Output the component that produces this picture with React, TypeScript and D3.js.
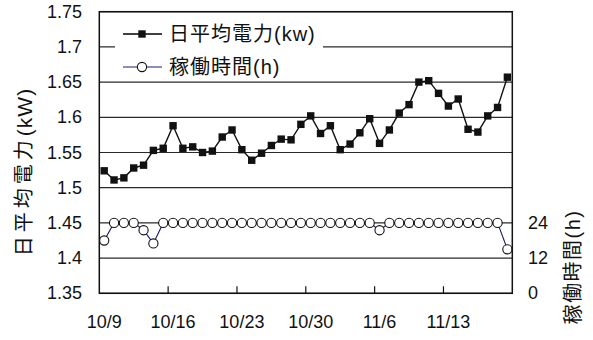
import React from "react";
import * as d3 from "d3";

const dates = [
  "10/9","10/10","10/11","10/12","10/13","10/14","10/15",
  "10/16","10/17","10/18","10/19","10/20","10/21","10/22",
  "10/23","10/24","10/25","10/26","10/27","10/28","10/29",
  "10/30","10/31","11/1","11/2","11/3","11/4","11/5",
  "11/6","11/7","11/8","11/9","11/10","11/11","11/12",
  "11/13","11/14","11/15","11/16","11/17","11/18","11/19",
];

const power = [
  1.524, 1.511, 1.514, 1.528, 1.532, 1.553, 1.556,
  1.588, 1.556, 1.558, 1.550, 1.552, 1.572, 1.582,
  1.554, 1.539, 1.549, 1.560, 1.569, 1.568, 1.590,
  1.602, 1.577, 1.588, 1.554, 1.562, 1.578, 1.598,
  1.563, 1.582, 1.606, 1.618, 1.650, 1.652, 1.634,
  1.616, 1.626, 1.583, 1.579, 1.602, 1.614, 1.657,
];

const hours = [
  18, 24, 24, 24, 21.5, 17, 24,
  24, 24, 24, 24, 24, 24, 24,
  24, 24, 24, 24, 24, 24, 24,
  24, 24, 24, 24, 24, 24, 24,
  21.5, 24, 24, 24, 24, 24, 24,
  24, 24, 24, 24, 24, 24, 15,
];

const leftTicks = [1.35, 1.4, 1.45, 1.5, 1.55, 1.6, 1.65, 1.7, 1.75];
const leftTickLabels = ["1.35", "1.4", "1.45", "1.5", "1.55", "1.6", "1.65", "1.7", "1.75"];
const rightTicks = [0, 12, 24];
const xLabelDates = ["10/9", "10/16", "10/23", "10/30", "11/6", "11/13"];
const xTickDates = ["10/16", "10/23", "10/30", "11/6", "11/13"];

const powerName = "日平均電力(kw)";
const hoursName = "稼働時間(h)";
const leftTitleMain = "日平均電力";
const leftTitleUnit = "(kW)";
const rightTitle = "稼働時間(h)";

const FONT = "'Liberation Sans', 'Noto Sans CJK JP', sans-serif";

export default function App() {
  const L = 99.3, R = 512.3, T = 11.7, B = 293.3;
  const x = d3.scaleBand<string>().domain(dates).range([L, R]);
  const cx = (d: string) => (x(d) as number) + x.bandwidth() / 2;
  const yL = d3.scaleLinear().domain([1.35, 1.75]).range([B, T]);
  const yR = d3.scaleLinear().domain([0, 96]).range([B, T]);

  const powerLine = d3.line<number>().x((_, i) => cx(dates[i])).y((v) => yL(v))(power) as string;
  const hoursLine = d3.line<number>().x((_, i) => cx(dates[i])).y((v) => yR(v))(hours) as string;

  const grid = "#2a2a2a";
  const navy = "#1c1c78";

  return (
    <svg width={593} height={340} style={{ position: "absolute", left: 0, top: 0, background: "#fff" }} fontFamily={FONT}>
      {/* gridlines */}
      {leftTicks.map((t) => (
        <line key={t} x1={L} x2={R} y1={yL(t)} y2={yL(t)} stroke={grid} strokeWidth={1.2} />
      ))}
      {/* legend box */}
      <rect x={115} y={17} width={208} height={61} fill="#fff" />
      <line x1={123} x2={162} y1={34} y2={34} stroke="#000" strokeWidth={1.3} />
      <rect x={142 - 3.7} y={34 - 3.7} width={7.4} height={7.4} fill="#111" />
      <text x={169} y={34} dominantBaseline="central" fontSize={20} letterSpacing={1} fill="#111">{powerName}</text>
      <line x1={123} x2={162} y1={67} y2={67} stroke={navy} strokeWidth={1.1} />
      <circle cx={142} cy={67} r={4.6} fill="#fff" stroke="#111" strokeWidth={1.1} />
      <text x={169} y={67} dominantBaseline="central" fontSize={20} letterSpacing={1} fill="#111">{hoursName}</text>

      {/* hours series */}
      <path d={hoursLine} fill="none" stroke={navy} strokeWidth={1.1} />
      {hours.map((v, i) => (
        <circle key={i} cx={cx(dates[i])} cy={yR(v)} r={4.6} fill="#fff" stroke="#111" strokeWidth={1.1} />
      ))}

      {/* power series */}
      <path d={powerLine} fill="none" stroke="#111" strokeWidth={1.4} />
      {power.map((v, i) => (
        <rect key={i} x={cx(dates[i]) - 3.7} y={yL(v) - 3.7} width={7.4} height={7.4} fill="#111" />
      ))}

      {/* frame */}
      <rect x={L} y={T} width={R - L} height={B - T} fill="none" stroke="#111" strokeWidth={1.5} />
      {xTickDates.map((d) => (
        <line key={d} x1={x(d) as number} x2={x(d) as number} y1={B} y2={B - 7} stroke="#111" strokeWidth={1.2} />
      ))}

      {/* left axis labels */}
      {leftTicks.map((t, i) => (
        <text key={t} x={82} y={yL(t)} textAnchor="end" dominantBaseline="central" fontSize={18} fill="#111">{leftTickLabels[i]}</text>
      ))}
      {/* right axis labels */}
      {rightTicks.map((t) => (
        <text key={t} x={528} y={yR(t)} textAnchor="start" dominantBaseline="central" fontSize={18} fill="#111">{t}</text>
      ))}
      {/* x labels */}
      {xLabelDates.map((d) => (
        <text key={d} x={cx(d)} y={328} textAnchor="middle" fontSize={18} fill="#111">{d}</text>
      ))}

      {/* axis titles */}
      <text transform="translate(24,172) rotate(-90)" textAnchor="middle" dominantBaseline="central" fontSize={20} fill="#111">
        <tspan letterSpacing={4}>{leftTitleMain}</tspan>
        <tspan fontSize={21} letterSpacing={1}>{leftTitleUnit}</tspan>
      </text>
      <text transform="translate(573,267) rotate(-90)" textAnchor="middle" dominantBaseline="central" fontSize={20} letterSpacing={1.5} fill="#111">{rightTitle}</text>
    </svg>
  );
}
